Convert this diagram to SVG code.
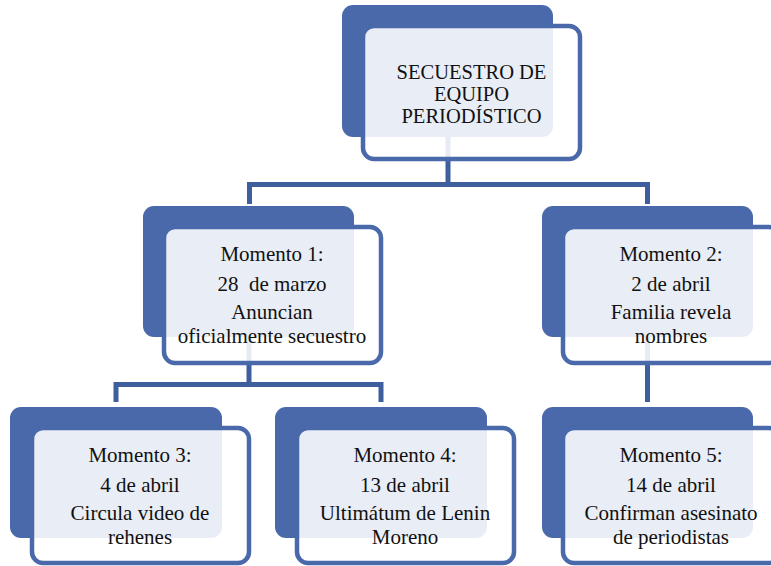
<svg xmlns="http://www.w3.org/2000/svg" width="771" height="566" viewBox="0 0 771 566">
<style>
.back{fill:#4a69aa;}
.front{fill:#ffffff;fill-opacity:0.88;stroke:#4a69aa;stroke-width:4.5;}
.conn{fill:none;stroke:#3f5e9e;stroke-width:5;stroke-linejoin:miter;}
text{font-family:"Liberation Serif","Times New Roman",serif;font-size:21px;fill:#111;text-anchor:middle;}
.title{font-size:20.5px;}
</style>
<rect width="771" height="566" fill="#ffffff"/>
<g id="connectors">
<path class="conn" d="M448,137 V184.5 M249.5,204 V184.5 H647.5 V204"/>
<path class="conn" d="M249,337 V384.5 M116,402 V384.5 H381 V402"/>
<path class="conn" d="M647.5,337 V402"/>
</g>
<g id="n0">
<rect class="back" x="342" y="5" width="211" height="132" rx="11"/>
<rect class="front" x="363" y="26" width="217" height="133" rx="11"/>
<text class="title" x="471.5" y="79">SECUESTRO DE</text>
<text class="title" x="471.5" y="101">EQUIPO</text>
<text class="title" x="471.5" y="123">PERIODÍSTICO</text>
</g>
<g id="n1">
<rect class="back" x="143" y="206" width="211" height="131" rx="11"/>
<rect class="front" x="164" y="227" width="217" height="136" rx="11"/>
<text x="272" y="261">Momento 1:</text>
<text x="272" y="291">28&#160; de marzo</text>
<text x="272" y="319">Anuncian</text>
<text x="272" y="343">oficialmente secuestro</text>
</g>
<g id="n2">
<rect class="back" x="542" y="206" width="211" height="131" rx="11"/>
<rect class="front" x="563" y="227" width="217" height="136" rx="11"/>
<text x="671" y="261">Momento 2:</text>
<text x="671" y="291">2 de abril</text>
<text x="671" y="319">Familia revela</text>
<text x="671" y="343">nombres</text>
</g>
<g id="n3">
<rect class="back" x="10" y="407" width="212" height="131" rx="11"/>
<rect class="front" x="32" y="428" width="217" height="135" rx="11"/>
<text x="140" y="462">Momento 3:</text>
<text x="140" y="492">4 de abril</text>
<text x="140" y="520">Circula video de</text>
<text x="140" y="544">rehenes</text>
</g>
<g id="n4">
<rect class="back" x="275" y="407" width="212" height="131" rx="11"/>
<rect class="front" x="297" y="428" width="217" height="135" rx="11"/>
<text x="405" y="462">Momento 4:</text>
<text x="405" y="492">13 de abril</text>
<text x="405" y="520">Ultimátum de Lenin</text>
<text x="405" y="544">Moreno</text>
</g>
<g id="n5">
<rect class="back" x="542" y="407" width="211" height="131" rx="11"/>
<rect class="front" x="563" y="428" width="217" height="135" rx="11"/>
<text x="671" y="462">Momento 5:</text>
<text x="671" y="492">14 de abril</text>
<text x="671" y="520">Confirman asesinato</text>
<text x="671" y="544">de periodistas</text>
</g>
</svg>
